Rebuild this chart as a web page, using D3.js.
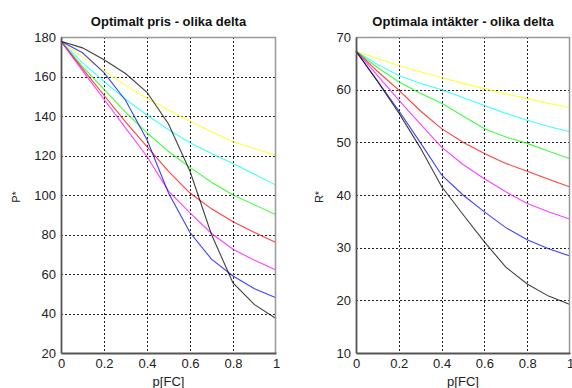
<!DOCTYPE html>
<html>
<head>
<meta charset="utf-8">
<script src="https://cdn.jsdelivr.net/npm/d3@7"></script>
<style>
  body { margin: 0; background: #fff; }
  svg { display: block; font-family: "Liberation Sans", Arial, sans-serif; }
</style>
</head>
<body>
<svg id="chart" width="572" height="388"></svg>
<script>
// x values (p[FC]) shared by all curves
const pValues = [0, 0.1, 0.2, 0.3, 0.4, 0.5, 0.6, 0.7, 0.8, 0.9, 1];
const colors = ['#ffff00', '#00ffff', '#00ff00', '#ff0000', '#ff00ff', '#0000ff', '#000000'];

// Optimal price P* for each delta
const priceYellow  = [177.8, 170, 163, 155.5, 149, 143, 137.5, 132, 127, 123.5, 120];
const priceCyan    = [177.8, 167, 157.5, 148.5, 140.5, 133, 126.5, 121, 116, 110.5, 105];
const priceGreen   = [177.8, 165, 153.5, 142, 131.5, 122, 114, 106.5, 100, 95, 90];
const priceRed     = [177.8, 164, 150.5, 137, 124.5, 112, 101, 93, 86.5, 81, 76];
const priceMagenta = [177.8, 163, 148.5, 134, 119.5, 102, 91, 80.5, 72.5, 67, 62];
const priceBlue    = [177.8, 172, 162, 148, 128, 101, 81, 67.5, 59, 52.5, 48];
const priceBlack   = [177.8, 174.5, 168.5, 161.5, 152, 136, 112, 80, 55.5, 44.5, 37.5];

// Optimal revenue R* for each delta
const revYellow  = [67.3, 65.9, 64.6, 63.4, 62.3, 61.2, 60.2, 59.2, 58.3, 57.4, 56.6];
const revCyan    = [67.3, 64.8, 62.7, 61.2, 60.0, 58.5, 57.0, 55.5, 54.2, 53.0, 52.0];
const revGreen   = [67.3, 64.2, 61.5, 59.3, 57.4, 55.0, 52.6, 51.0, 49.8, 48.3, 46.9];
const revRed     = [67.3, 63.5, 59.9, 56.0, 52.6, 50.0, 47.9, 46.0, 44.5, 43.0, 41.5];
const revMagenta = [67.3, 62.7, 58.0, 53.5, 49.1, 45.8, 43.1, 40.6, 38.4, 36.8, 35.4];
const revBlue    = [67.3, 61.7, 56.0, 50.0, 43.8, 40.0, 36.8, 33.8, 31.5, 29.8, 28.4];
const revBlack   = [67.3, 61.6, 55.6, 49.0, 41.6, 36.3, 31.1, 26.3, 23.1, 20.8, 19.2];

const xTicks = [0, 0.2, 0.4, 0.6, 0.8, 1];
const priceTicks = [20, 40, 60, 80, 100, 120, 140, 160, 180];
const revTicks = [10, 20, 30, 40, 50, 60, 70];

const svg = d3.select('#chart');

function drawPanel(opts) {
    const { left, right, top, bottom, yDomain, yTicks, series, title, yLabel, yLabelX } = opts;
    const x = d3.scaleLinear().domain([0, 1]).range([left, right]);
    const y = d3.scaleLinear().domain(yDomain).range([bottom, top]);
    const g = svg.append('g');

    // dotted grid
    const grid = g.append('g')
        .attr('stroke', '#222')
        .attr('stroke-width', 1)
        .attr('stroke-dasharray', '2,2');
    grid.selectAll('line.v')
        .data(xTicks.slice(1, -1))
        .enter().append('line')
        .attr('x1', d => Math.round(x(d)) + 0.5).attr('x2', d => Math.round(x(d)) + 0.5)
        .attr('y1', top).attr('y2', bottom);
    grid.selectAll('line.h')
        .data(yTicks.slice(1, -1))
        .enter().append('line')
        .attr('x1', left).attr('x2', right)
        .attr('y1', d => Math.round(y(d)) + 0.5).attr('y2', d => Math.round(y(d)) + 0.5);

    // curves
    const line = d3.line()
        .x((d, i) => x(pValues[i]))
        .y(d => y(d));
    g.append('g')
        .selectAll('path')
        .data(series)
        .enter().append('path')
        .attr('d', d => line(d))
        .attr('fill', 'none')
        .attr('stroke', (d, i) => colors[i])
        .attr('stroke-width', 1.1)
        .attr('stroke-opacity', 0.75);

    // box: top & right lighter
    g.append('path')
        .attr('d', `M${left},${top + 0.5}H${right - 0.5}V${bottom}`)
        .attr('fill', 'none')
        .attr('stroke', '#999')
        .attr('stroke-width', 1.5);

    // axes
    const xAxis = d3.axisBottom(x).tickValues(xTicks).tickSize(0).tickPadding(6)
        .tickFormat(d => d === 0 || d === 1 ? String(d) : d3.format('.1f')(d));
    const yAxis = d3.axisLeft(y).tickValues(yTicks).tickSize(0).tickPadding(5);

    const ax = g.append('g').attr('transform', `translate(0,${bottom})`).call(xAxis);
    const ay = g.append('g').attr('transform', `translate(${left},0)`).call(yAxis);
    [ax, ay].forEach(a => {
        a.select('.domain').attr('stroke', '#555').attr('stroke-width', 1.8);
        a.selectAll('text')
            .attr('fill', '#222')
            .style('font-size', '13px')
            .style('font-family', '"Liberation Sans", Arial, sans-serif');
    });

    // title
    svg.append('text')
        .attr('x', (left + right) / 2)
        .attr('y', 26)
        .attr('text-anchor', 'middle')
        .attr('font-size', '13px')
        .attr('font-weight', 'bold')
        .attr('fill', '#111')
        .text(title);

    // x label
    svg.append('text')
        .attr('x', (left + right) / 2)
        .attr('y', 386)
        .attr('text-anchor', 'middle')
        .attr('font-size', '13px')
        .attr('fill', '#222')
        .text('p[FC]');

    // y label
    svg.append('text')
        .attr('transform', `translate(${yLabelX},${(top + bottom) / 2 + 2}) rotate(-90)`)
        .attr('text-anchor', 'middle')
        .attr('font-size', '11px')
        .attr('fill', '#222')
        .text(yLabel);
}

drawPanel({
    left: 61, right: 276, top: 37, bottom: 353,
    yDomain: [20, 180], yTicks: priceTicks,
    series: [priceYellow, priceCyan, priceGreen, priceRed, priceMagenta, priceBlue, priceBlack],
    title: 'Optimalt pris - olika delta',
    yLabel: 'P*', yLabelX: 20
});

drawPanel({
    left: 356, right: 570, top: 37, bottom: 353,
    yDomain: [10, 70], yTicks: revTicks,
    series: [revYellow, revCyan, revGreen, revRed, revMagenta, revBlue, revBlack],
    title: 'Optimala intäkter - olika delta',
    yLabel: 'R*', yLabelX: 323
});
</script>
</body>
</html>
